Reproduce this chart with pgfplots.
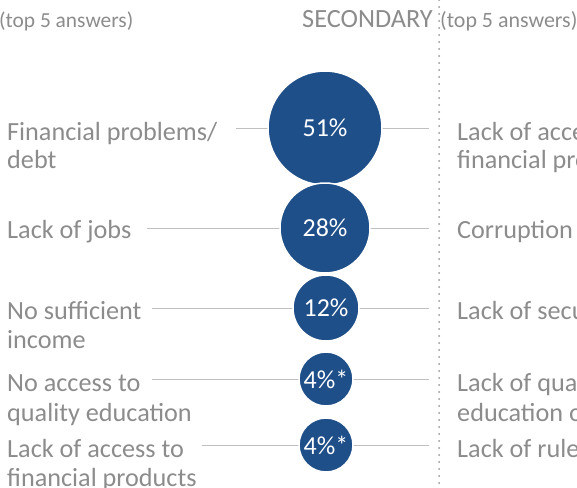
\documentclass[border=0pt]{standalone}
\usepackage{fontspec}
\setmainfont{Carlito}
\usepackage{pgfplots}
\pgfplotsset{compat=1.18}

\definecolor{bubble}{RGB}{31,79,137}
\definecolor{labelgray}{RGB}{140,140,140}
\definecolor{linegray}{RGB}{191,191,191}
\definecolor{dotgray}{RGB}{150,150,150}

\begin{document}
\begin{tikzpicture}[
    lab/.style={anchor=base west, inner sep=0pt, text=labelgray,
        font=\fontsize{26.3}{30}\selectfont},
  ]
\path[use as bounding box] (0,0) rectangle (577bp,488bp);
\clip (0,0) rectangle (577bp,488bp);
\begin{axis}[
    at={(0,0)}, anchor=south west,
    scale only axis, width=577bp, height=488bp,
    xmin=0, xmax=577, ymin=0, ymax=488,
    y dir=reverse,
    hide axis, clip=false,
    bubble/.style={only marks, mark=*,
        mark options={draw=white, fill=bubble, line width=1.5bp},
        point meta=explicit symbolic,
        nodes near coords, nodes near coords align={center},
        every node near coord/.append style={text=white, inner sep=0pt,
            font=\fontsize{26}{30}\selectfont}},
  ]
  % vertical dotted separator
  \addplot[dotgray, line width=2bp, line cap=round, dash pattern=on 0pt off 7bp]
    coordinates {(439,0) (439,488)};

  % connector lines
  \addplot[linegray, line width=1bp] coordinates {(236,128) (429,128)};
  \addplot[linegray, line width=1bp] coordinates {(147,228) (429,228)};
  \addplot[linegray, line width=1bp] coordinates {(152,308) (429,308)};
  \addplot[linegray, line width=1bp] coordinates {(152,379) (429,379)};
  \addplot[linegray, line width=1bp] coordinates {(202,445) (429,445)};

  % bubbles: centre, radius as mark size, share as label
  \addplot[bubble, mark size=57bp] coordinates {(325,128) [51\%]};
  \addplot[bubble, mark size=45bp] coordinates {(325,228) [28\%]};
  \addplot[bubble, mark size=33bp] coordinates {(326,308) [12\%]};
  \addplot[bubble, mark size=27bp] coordinates {(326,379) [4\%*]};
  \addplot[bubble, mark size=27bp] coordinates {(326,445) [4\%*]};

  % header
  \node[anchor=base west, inner sep=0pt, text=labelgray, font=\fontsize{21.5}{26}\selectfont]
    at (axis cs:-1,28) {(top 5 answers)};
  \node[anchor=base west, inner sep=0pt, text=labelgray, font=\fontsize{26.4}{30}\selectfont]
    at (axis cs:302,28) {SECONDARY};
  \node[anchor=base west, inner sep=0pt, text=labelgray, font=\fontsize{22}{26}\selectfont]
    at (axis cs:440,28) {(top 5 answers)};

  % left labels
  \node[lab] at (axis cs:7,140) {Financial problems/};
  \node[lab] at (axis cs:7,168) {debt};
  \node[lab] at (axis cs:7,238) {Lack of jobs};
  \node[lab] at (axis cs:7,319) {No sufficient};
  \node[lab] at (axis cs:7,348) {income};
  \node[lab] at (axis cs:7,391) {No access to};
  \node[lab] at (axis cs:7,421) {quality education};
  \node[lab] at (axis cs:7,457) {Lack of access to};
  \node[lab] at (axis cs:7,486) {financial products};

  % right labels
  \node[lab] at (axis cs:457,140) {Lack of access to};
  \node[lab] at (axis cs:457,168) {financial products};
  \node[lab] at (axis cs:457,238) {Corruption};
  \node[lab] at (axis cs:457,319) {Lack of security};
  \node[lab] at (axis cs:457,391) {Lack of quality};
  \node[lab] at (axis cs:457,421) {education opportunities};
  \node[lab] at (axis cs:457,457) {Lack of rule of law};
\end{axis}
\end{tikzpicture}
\end{document}
